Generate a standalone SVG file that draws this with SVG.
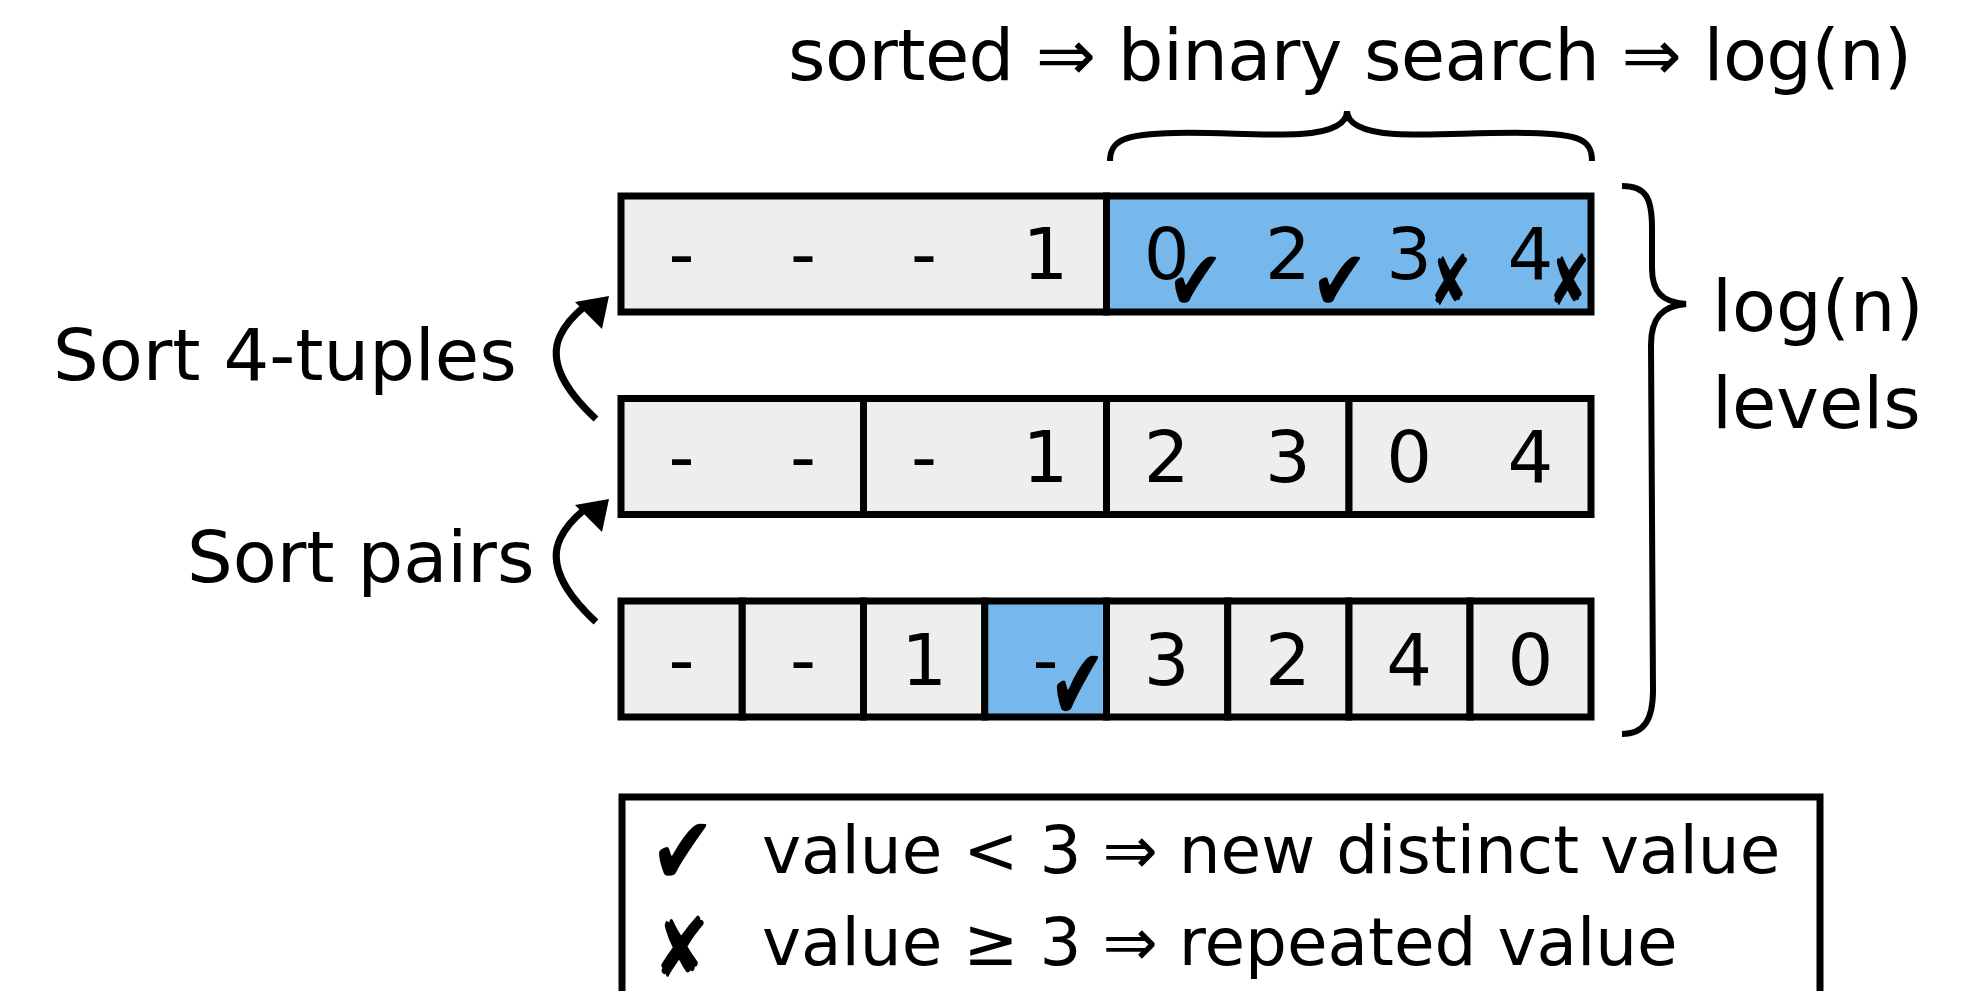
<svg xmlns="http://www.w3.org/2000/svg" width="1984" height="991" viewBox="0 0 1984 991">
<style>
.t{font-family:"DejaVu Sans","Liberation Sans",sans-serif;font-size:72px;fill:#000}
.lg{font-family:"DejaVu Sans","Liberation Sans",sans-serif;font-size:66px;fill:#000}
.d{font-family:"DejaVu Sans","Liberation Sans",sans-serif;font-size:72px;fill:#000;text-anchor:middle}
.g{fill:#eeeeee;stroke:#000;stroke-width:7}
.b{fill:#77b8ec;stroke:#000;stroke-width:7}
.sym{font-family:"DejaVu Sans",sans-serif;fill:#000}
.ln{fill:none;stroke:#000;stroke-width:6;stroke-linecap:butt}
.ar{fill:none;stroke:#000;stroke-width:7;stroke-linecap:butt}
</style>
<rect width="1984" height="991" fill="#fff"/>

<g id="top-label">
<text class="t" x="788" y="80" font-size="71" textLength="1124" lengthAdjust="spacing">sorted ⇒ binary search ⇒ log(n)</text>
</g>
<g id="top-brace">
<path class="ln" d="M1110,161 C1110,140 1125,134 1175,133 C1220,132 1260,136 1300,134 C1335,132 1347,122 1347,111 C1347,122 1360,132 1395,134 C1435,136 1480,132 1530,133 C1580,134 1592,140 1592,161"/>
</g>

<g id="row1">
<rect class="g" x="621" y="196" width="485.5" height="116"/>
<rect class="b" x="1106.5" y="196" width="484.5" height="116"/>
<text class="d" x="681.6" y="279">-</text>
<text class="d" x="802.9" y="279">-</text>
<text class="d" x="924.1" y="279">-</text>
<text class="d" x="1045.4" y="279">1</text>
<text class="d" x="1166.6" y="279">0</text>
<text class="d" x="1287.9" y="279">2</text>
<text class="d" x="1409.1" y="279">3</text>
<text class="d" x="1530.4" y="279">4</text>
<text class="sym" transform="translate(1167,310) scale(1,1.25)" font-size="68">✔</text>
<text class="sym" transform="translate(1311,310) scale(1,1.25)" font-size="68">✔</text>
<text class="sym" transform="translate(1429,305) scale(0.9,1.25)" font-size="56">✘</text>
<text class="sym" transform="translate(1548,305) scale(0.9,1.25)" font-size="56">✘</text>
</g>

<g id="row2">
<rect class="g" x="621" y="398.5" width="242.5" height="116"/>
<rect class="g" x="863.5" y="398.5" width="243" height="116"/>
<rect class="g" x="1106.5" y="398.5" width="242.5" height="116"/>
<rect class="g" x="1349" y="398.5" width="242" height="116"/>
<text class="d" x="681.6" y="482">-</text>
<text class="d" x="802.9" y="482">-</text>
<text class="d" x="924.1" y="482">-</text>
<text class="d" x="1045.4" y="482">1</text>
<text class="d" x="1166.6" y="482">2</text>
<text class="d" x="1287.9" y="482">3</text>
<text class="d" x="1409.1" y="482">0</text>
<text class="d" x="1530.4" y="482">4</text>
</g>

<g id="row3">
<rect class="g" x="621" y="601" width="121.25" height="116"/>
<rect class="g" x="742.25" y="601" width="121.25" height="116"/>
<rect class="g" x="863.5" y="601" width="121.25" height="116"/>
<rect class="b" x="984.75" y="601" width="121.75" height="116"/>
<rect class="g" x="1106.5" y="601" width="121.25" height="116"/>
<rect class="g" x="1227.75" y="601" width="121.25" height="116"/>
<rect class="g" x="1349" y="601" width="121" height="116"/>
<rect class="g" x="1470" y="601" width="121" height="116"/>
<text class="d" x="681.6" y="685">-</text>
<text class="d" x="802.9" y="685">-</text>
<text class="d" x="924.1" y="685">1</text>
<text class="d" x="1045.4" y="685">-</text>
<text class="d" x="1166.6" y="685">3</text>
<text class="d" x="1287.9" y="685">2</text>
<text class="d" x="1409.1" y="685">4</text>
<text class="d" x="1530.4" y="685">0</text>
<text class="sym" transform="translate(1049,720) scale(1,1.5)" font-size="68">✔</text>
</g>

<g id="sort-4-tuples-label">
<text class="t" x="53" y="380" font-size="73">Sort 4-tuples</text>
</g>
<g id="sort-pairs-label">
<text class="t" x="187" y="582" font-size="73">Sort pairs</text>
</g>

<g id="connectors">
<path class="ar" d="M596,419 C565,390 548,362 560,336 C566,323 574,315 584,307"/>
<polygon points="609,296 575,302 602,329" fill="#000"/>
<path class="ar" d="M596,622 C565,593 548,565 560,539 C566,526 574,518 584,510"/>
<polygon points="609,499 575,505 602,532" fill="#000"/>
</g>

<g id="levels-brace">
<path class="ln" d="M1622,186 C1646,186 1652,198 1652,228 L1652,268 C1652,292 1662,302 1686,304 C1662,306 1651,318 1651,345 L1653,690 C1653,720 1644,734 1622,734"/>
<text class="t" x="1712" y="331">log(n)</text>
<text class="t" x="1712" y="428">levels</text>
</g>

<g id="legend">
<rect x="622" y="797" width="1198" height="210" fill="#fff" stroke="#000" stroke-width="7"/>
<text class="sym" transform="translate(650,884) scale(1,1.23)" font-size="78">✔</text>
<text class="lg" x="762" y="873">value &lt; 3 ⇒ new distinct value</text>
<text class="sym" transform="translate(653,977) scale(1.05,1.3)" font-size="64">✘</text>
<text class="lg" x="762" y="965">value ≥ 3 ⇒ repeated value</text>
</g>
</svg>
